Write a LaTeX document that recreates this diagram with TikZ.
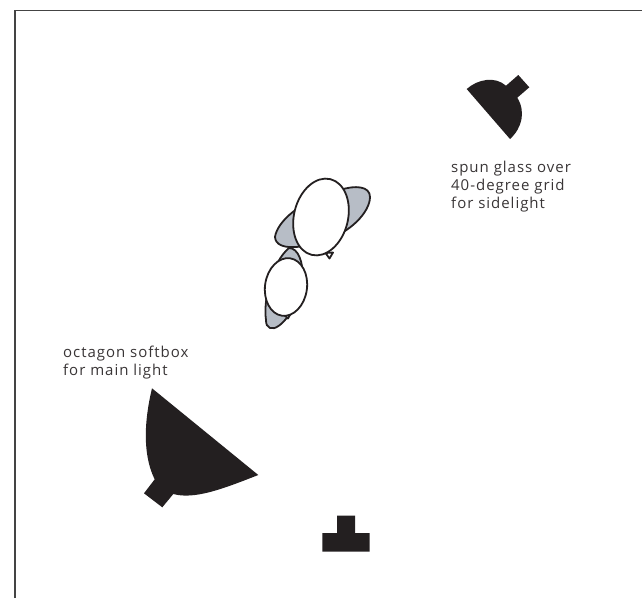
\documentclass[tikz,border=0pt]{standalone}
\usepackage{fontspec}
\setmainfont[LetterSpace=6.5]{Open Sans}
\definecolor{ink}{HTML}{231F20}
\definecolor{frameink}{HTML}{444444}
\definecolor{balloon}{HTML}{B7BDC6}
\tikzset{
  px/.style={x=1pt,y=-1pt},
  solid ink/.style={fill=ink,draw=none},
  outline/.style={draw=ink,line width=1.8pt,line join=round},
  grayshape/.style={outline,fill=balloon},
  whiteshape/.style={outline,fill=white},
  note/.style={align=left,anchor=north west,inner sep=0pt,text=ink!90!white,font=\fontsize{15}{18.2}\selectfont}
}
\begin{document}
\begin{tikzpicture}[px]
\useasboundingbox (0,0) rectangle (642,598);
\draw[frameink,line width=1.5pt] (15.2,598) -- (15.2,10.7) -- (642,10.7);
% main light
\path[solid ink] (152,388.3) -- (258.3,475) .. controls (225,488) and (195,500) .. (173.3,494)
  -- (162.3,507.3) -- (144,493.3) -- (154.7,479.3) .. controls (145,460) and (142,430) .. cycle;
% side light
\path[solid ink] (466.7,89) .. controls (478,79) and (495,76) .. (506,85.7) -- (518.3,75) -- (529.3,87.3)
  -- (517.3,97.7) .. controls (526,112) and (522,128) .. (510,139) -- cycle;
% camera
\path[solid ink] (337,515.7) -- (355,515.7) -- (355,533) -- (369.7,533) -- (369.7,551.7) -- (322.3,551.7) -- (322.3,533) -- (337,533) -- cycle;
% rear gray shape (large)
\path[grayshape] (275,237) .. controls (277,222) and (300,200) .. (340,190)
  .. controls (355,185) and (370,186) .. (370,197)
  .. controls (370,212) and (350,233) .. (325,240)
  .. controls (305,248) and (276,252) .. cycle;
% rear gray shape (small)
\path[grayshape] (266,320) .. controls (263,300) and (272,262) .. (289,248)
  .. controls (298,248) and (304,262) .. (302,280)
  .. controls (300,305) and (280,332) .. (270,328) .. controls (267,327) and (266,324) .. cycle;
% white ellipses
\path[whiteshape] (325.5,253) -- (329.5,258.5) -- (333,252.5) -- cycle;
\path[whiteshape,rotate around={-14:(321,217)}] (321,217) ellipse [x radius=27,y radius=39];
\path[whiteshape] (283,314) -- (288,318.5) -- (291,313) -- cycle;
\path[whiteshape,rotate around={-8:(286,287)}] (286,287) ellipse [x radius=21,y radius=29];
% labels
\node[note] (t1) at (451,160.5) {spun glass over\\40-degree grid\\for sidelight};
\node[note] (t2) at (63,345.5) {octagon softbox\\for main light};
\end{tikzpicture}
\end{document}
